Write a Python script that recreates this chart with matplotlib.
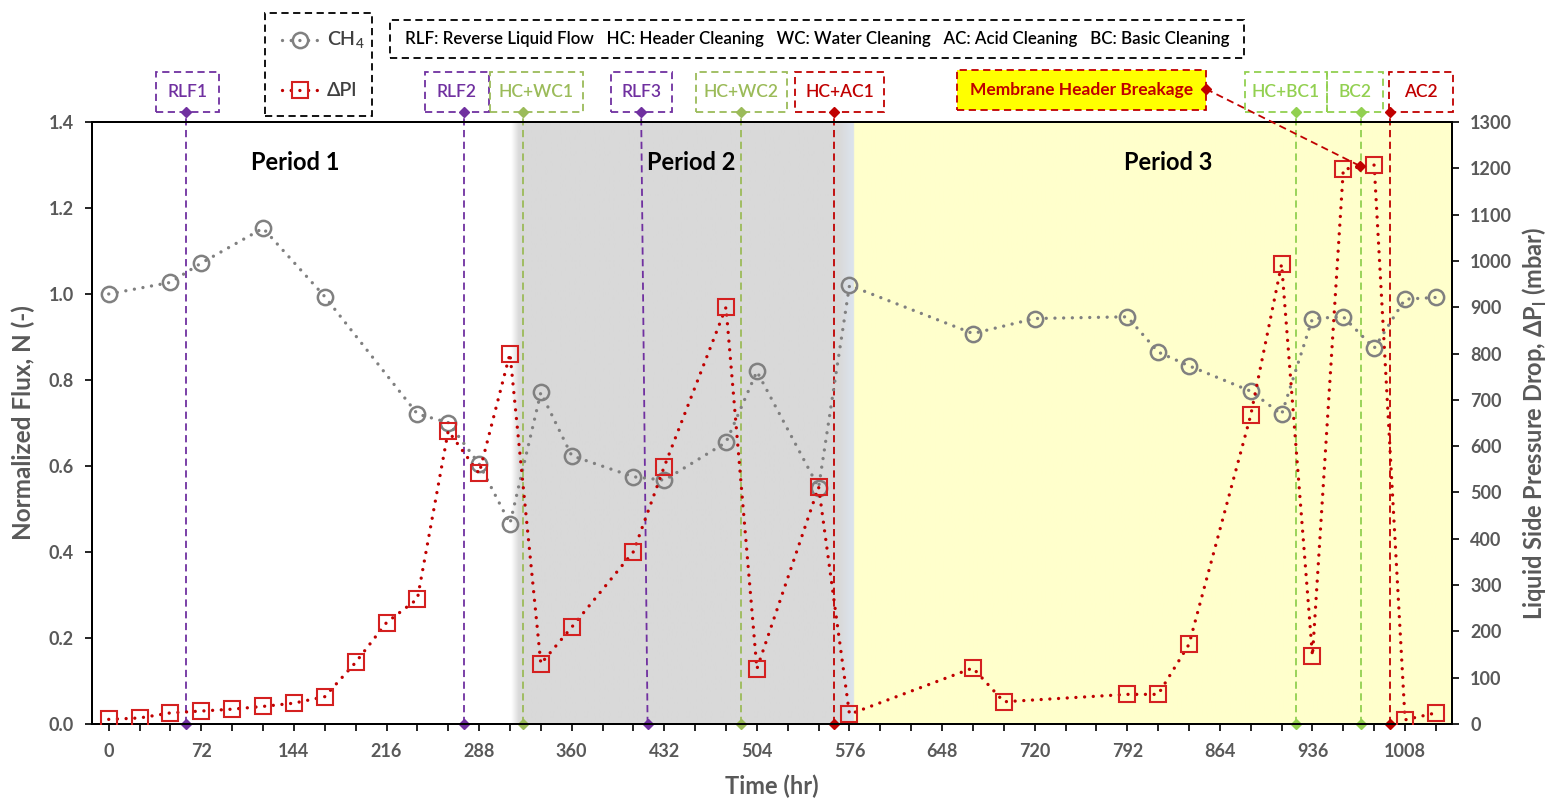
import matplotlib
matplotlib.use('Agg')
import matplotlib.pyplot as plt
import numpy as np
from matplotlib.patches import Rectangle
from matplotlib.lines import Line2D
from matplotlib.ticker import MultipleLocator, FormatStrFormatter

plt.rcParams['font.family'] = ['Lato', 'DejaVu Sans']

# ---------------- data ----------------
t_ch4 = [0, 48, 72, 120, 168, 240, 264, 288, 312, 336, 360, 408, 432, 480, 504,
         552, 576, 672, 720, 792, 816, 840, 888, 912, 936, 960, 984, 1008, 1032]
n_ch4 = [1.000, 1.027, 1.072, 1.153, 0.994, 0.721, 0.701, 0.605, 0.466, 0.771,
         0.624, 0.575, 0.567, 0.655, 0.820, 0.550, 1.020, 0.908, 0.943, 0.947,
         0.865, 0.833, 0.774, 0.720, 0.943, 0.947, 0.874, 0.988, 0.992]

t_dp = [0, 24, 48, 72, 96, 120, 144, 168, 192, 216, 240, 264, 288, 312, 336, 360,
        408, 432, 480, 504, 552, 576, 672, 696, 792, 816, 840, 888, 912, 936, 960,
        984, 1008, 1032]
dp = [10, 13, 24, 28, 32, 38, 45, 59, 133, 219, 270, 633, 541, 800, 130, 209,
      372, 556, 900, 119, 512, 21, 121, 48, 64, 64, 172, 667, 993, 147, 1198,
      1207, 9, 24]

event_names = ['RLF1', 'RLF2', 'HC+WC1', 'RLF3', 'HC+WC2', 'HC+AC1', 'HC+BC1', 'BC2', 'AC2']
event_t_bottom = [60, 276, 322, 419, 492, 564, 923, 974, 996]
event_t_top = [60, 276, 322, 414, 492, 564, 923, 974, 996]
event_colors = ['#7030a0', '#7030a0', '#9bbb59', '#7030a0', '#9bbb59', '#c00000',
                '#92d050', '#92d050', '#c00000']
# label boxes (time span)
box_t0 = [36.6, 245.8, 296.3, 390.4, 456.6, 533.6, 883.6, 947.3, 995.6]
box_t1 = [85.6, 295.6, 368.7, 437.9, 527.3, 602.8, 947.3, 990.9, 1045.4]

period_labels = ['Period 1', 'Period 2', 'Period 3']
period_label_t = [145, 453, 824]
period_bounds = [313, 319, 568, 578, 579.5]

breakage_label = 'Membrane Header Breakage'
breakage_t = [659.6, 853.2]
breakage_target = (973, 1205)

info_text = ('RLF: Reverse Liquid Flow   HC: Header Cleaning   WC: Water Cleaning   '
             'AC: Acid Cleaning   BC: Basic Cleaning')

GREY_TXT = '#595959'
W, H = 1548, 801
DOT = (0, (0.01, 2.6))

fig = plt.figure(figsize=(W / 100, H / 100), dpi=100)
ax = fig.add_axes([92 / W, 1 - 724 / H, (1452 - 92) / W, (724 - 122) / H])
ax2 = ax.twinx()

XMIN, XMAX = -13, 1044.5

# background gradient (white | grey | blue-grey | yellow)
white = np.array([1, 1, 1.0])
grey = np.array([217, 217, 217]) / 255
blue = np.array([220, 227, 236]) / 255
yellow = np.array([255, 255, 204]) / 255
xs = np.linspace(XMIN, XMAX, 3000)


def bgcol(t):
    a, b, c, d, e = period_bounds
    if t < a:
        return white
    if t < b:
        f = (t - a) / (b - a)
        return white * (1 - f) + grey * f
    if t < c:
        return grey
    if t < d:
        f = (t - c) / (d - c)
        return grey * (1 - f) + blue * f
    if t < e:
        return blue
    return yellow


img = np.array([bgcol(t) for t in xs])[None, :, :]
ax.imshow(img, extent=[XMIN, XMAX, 0, 1.4], aspect='auto', zorder=0,
          interpolation='bilinear')

# event lines
xt = ax.get_xaxis_transform()
for tb, tt, c in zip(event_t_bottom, event_t_top, event_colors):
    ax.plot([tb, tt], [0, 1.017], transform=xt, color=c, ls=(0, (4, 2.5)), lw=1.3,
            marker='D', ms=5, mfc=c, mec=c, clip_on=False, zorder=2)

# boxes with event labels
for name, t0, t1, c in zip(event_names, box_t0, box_t1, event_colors):
    ax.add_patch(Rectangle((t0, 1.017), t1 - t0, 0.066, transform=xt, fill=False,
                           ec=c, ls=(0, (4, 2.5)), lw=1.3, clip_on=False, zorder=5))
    ax.text((t0 + t1) / 2, 1.05, name, transform=xt, ha='center', va='center',
            color=c, fontsize=12.5, fontweight='semibold', clip_on=False)

# breakage box
ax.add_patch(Rectangle((breakage_t[0], 1.02), breakage_t[1] - breakage_t[0], 0.066,
                       transform=xt, fc='#ffff00', ec='#c00000', ls=(0, (4, 2.5)),
                       lw=1.3, clip_on=False, zorder=5))
ax.text(sum(breakage_t) / 2, 1.053, breakage_label, transform=xt, ha='center',
        va='center', color='#c00000', fontsize=12.5, fontweight='bold', zorder=6)

# period labels
for lab, t in zip(period_labels, period_label_t):
    ax.text(t, 0.932, lab, transform=xt, ha='center', va='center', fontsize=17,
            fontweight='bold', color='black', zorder=4)

# series
ax.plot(t_ch4, n_ch4, color='#808080', ls=DOT, lw=2.4,
        dash_capstyle='round', marker='o', ms=11, mfc='none', mec='#808080',
        mew=1.8, zorder=3)
ax2.plot(t_dp, dp, color='#c00000', ls=DOT, lw=2.4,
         dash_capstyle='round', marker='s', ms=12, mfc='none', mec='#d42020',
         mew=1.5, zorder=3)

# breakage arrow line
ax2.plot([breakage_t[1], breakage_target[0]], [1.0548 * 1300, breakage_target[1]],
         color='#c00000', ls=(0, (4, 2.5)), lw=1.3, marker='D', ms=5,
         clip_on=False, zorder=6)

# axes formatting
ax.set_xlim(XMIN, XMAX)
ax.set_ylim(0, 1.4)
ax2.set_ylim(0, 1300)
ax.xaxis.set_major_locator(MultipleLocator(72))
ax.xaxis.set_minor_locator(MultipleLocator(24))
ax.yaxis.set_major_locator(MultipleLocator(0.2))
ax.yaxis.set_major_formatter(FormatStrFormatter('%.1f'))
ax2.yaxis.set_major_locator(MultipleLocator(100))

for a in (ax, ax2):
    for s in a.spines.values():
        s.set_color('black')
        s.set_linewidth(1.4)

ax.tick_params(axis='x', which='major', direction='out', length=5, width=1.2,
               labelsize=13, labelcolor=GREY_TXT, pad=9)
ax.tick_params(axis='x', which='minor', direction='out', length=5, width=1.2)
ax.tick_params(axis='y', direction='out', length=5, width=1.2, labelsize=13,
               labelcolor=GREY_TXT, pad=8)
ax2.tick_params(axis='y', direction='out', length=5, width=1.2, labelsize=13,
                labelcolor=GREY_TXT, pad=8)
for lab in ax.get_xticklabels() + ax.get_yticklabels() + ax2.get_yticklabels():
    lab.set_fontweight('bold')

ax.set_xlabel('Time (hr)', fontsize=17, fontweight='bold', color=GREY_TXT, labelpad=10)
ax.set_ylabel('Normalized Flux, N (-)', fontsize=17.5, fontweight='bold',
              color=GREY_TXT, labelpad=10)
ax2.set_ylabel(r'Liquid Side Pressure Drop, ΔP$_\mathregular{l}$ (mbar)', fontsize=17,
               fontweight='bold', color=GREY_TXT, labelpad=6)

ax.set_zorder(1)
ax2.set_zorder(2)
ax2.patch.set_visible(False)


# figure-level boxes
def fx(x):
    return x / W


def fy(y):
    return 1 - y / H


ft = fig.transFigure
# legend box
fig.patches.append(Rectangle((fx(265), fy(116)), fx(372) - fx(265), fy(13) - fy(116),
                             transform=ft, fill=False, ec='black', ls=(0, (4, 2.5)),
                             lw=1.3))
fig.lines.append(Line2D([fx(282), fx(320)], [fy(40), fy(40)], transform=ft,
                        color='#808080', ls=DOT, lw=2.4, dash_capstyle='round'))
fig.lines.append(Line2D([fx(300)], [fy(40)], transform=ft, marker='o', ms=11,
                        mfc='none', mec='#808080', mew=1.8, ls='none'))
fig.text(fx(327), fy(40), r'CH$_\mathregular{4}$', ha='left', va='center',
         fontsize=14, fontweight='semibold', color='#404040')
fig.lines.append(Line2D([fx(282), fx(320)], [fy(90), fy(90)], transform=ft,
                        color='#c00000', ls=DOT, lw=2.4, dash_capstyle='round'))
fig.lines.append(Line2D([fx(300)], [fy(90)], transform=ft, marker='s', ms=12,
                        mfc='none', mec='#d42020', mew=1.5, ls='none'))
fig.text(fx(327), fy(90), 'ΔPl', ha='left', va='center',
         fontsize=14, fontweight='semibold', color='#404040')

# info box
fig.patches.append(Rectangle((fx(390), fy(58)), fx(1244) - fx(390), fy(20) - fy(58),
                             transform=ft, fill=False, ec='black', ls=(0, (4, 2.5)),
                             lw=1.3))
fig.text(fx(817), fy(39), info_text, ha='center', va='center', fontsize=12.2,
         fontweight='semibold', color='black')

fig.savefig('out.png', dpi=100)
